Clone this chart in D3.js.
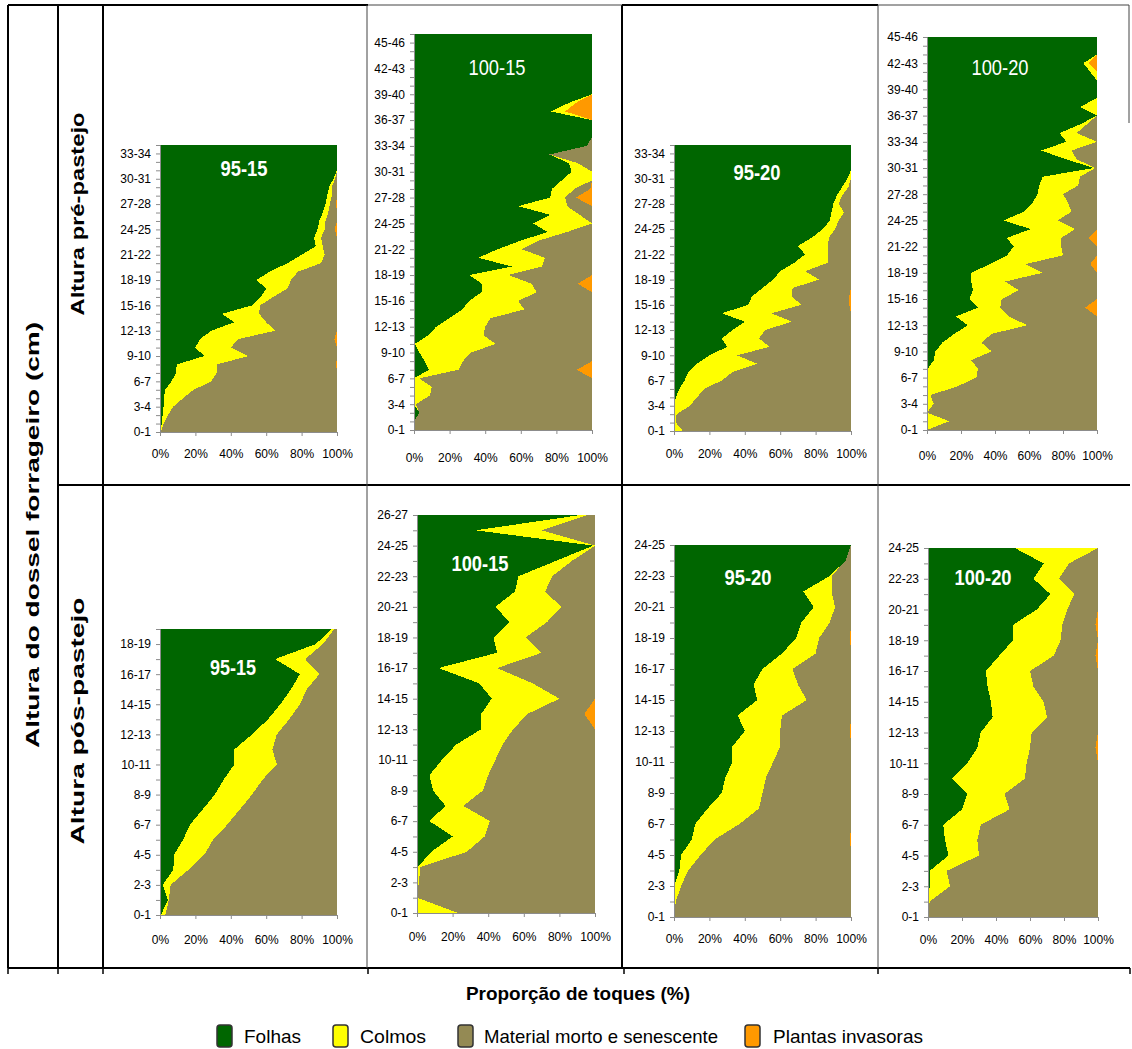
<!DOCTYPE html>
<html><head><meta charset="utf-8">
<script src="https://cdn.jsdelivr.net/npm/d3@7"></script>
<style>body{margin:0;background:#fff}svg{display:block}</style>
</head><body>
<svg id="chart" width="1132" height="1049"></svg>
<script>
// ---------- DATA ----------
const categories = ["0-1","1-2","2-3","3-4","4-5","5-6","6-7","7-8","8-9","9-10","10-11","11-12","12-13","13-14","14-15","15-16","16-17","17-18","18-19","19-20","20-21","21-22","22-23","23-24","24-25","25-26","26-27","27-28","28-29","29-30","30-31","31-32","32-33","33-34","34-35","35-36","36-37","37-38","38-39","39-40","40-41","41-42","42-43","43-44","44-45","45-46","46-47"];
const seriesNames = ["Folhas","Colmos","Material morto e senescente","Plantas invasoras"];
const seriesColors = ["#006600","#ffff00","#948a54","#ff9900"];
const xTickValues = [0,0.2,0.4,0.6,0.8,1];
const panelTitles = ["95-15","100-15","95-20","100-20","95-15","100-15","95-20","100-20"];

// Pré-pastejo 95-15
const preA_folhas = [0,1,1.5,2,2,3,6.5,9,9.5,25,20,22.5,29,42,35,52,57,60,54.5,62,72,80,88,87,89,90,92,93.5,94.5,95.5,98,100,100,100,100];
const preA_colmos = [0.5,1,3,5.5,11,16,22.5,23,22.5,25,20,21.5,36,18,21,4.5,7,12,19.5,16,19,13,4,4,4,3.5,3,2.5,2.5,1.5,1,0,0,0,0];
const preA_morto  = [99.5,98,95.5,92.5,87,81,71,68,67.5,50,60,54.5,35,40,44,43.5,36,28,26,22,9,7,8,9,5.7,6.5,5,3.5,3,3,1,0,0,0,0];
const preA_invas  = [0,0,0,0,0,0,0,0,0.5,0,0,1.5,0,0,0,0,0,0,0,0,0,0,0,0,1.3,0,0,0.5,0,0,0,0,0,0,0];
// Pré-pastejo 100-15
const preB_folhas = [0,0,3,0,0,0,0,8.5,6,3,0.5,8,12.5,20,27,31,38,38,31,55,36,47,60,75,67,76.5,58.5,76.5,77.5,83,88.5,87,76,97,100,100,100,77,87,100,100,100,100,100,100,100,100];
const preB_colmos = [0,0,0,1,9,10,3,16.5,21.5,29,45.5,31,27.5,23,35,27.5,31,28,22,17,37.5,13.5,10,11,33,16.5,27.5,8.5,12.5,17,11.5,5,0,0,0,0,0,8,4,0,0,0,0,0,0,0,0];
const preB_morto  = [100,100,97,99,91,90,97,66.5,72.5,68,54,61,60,57,38,41.5,31,26,47,28,26.5,39.5,30,14,0,7,14,6,9,0,0,8,24,3,0,0,0,0,0,0,0,0,0,0,0,0,0];
const preB_invas  = [0,0,0,0,0,0,0,8.5,0,0,0,0,0,0,0,0,0,8,0,0,0,0,0,0,0,0,0,9,1,0,0,0,0,0,0,0,0,15,9,0,0,0,0,0,0,0,0];
// Pré-pastejo 95-20
const preC_folhas = [0,0,0,0,1,3,6,8,13,20,30,27,33,40,27,42,44,50,56,60,68,74,70,78,84,88,89,90,92,95,98,100,100,100,100];
const preC_colmos = [5,1,1.5,9,12,14,21,25,34,15.5,24,21,18.5,26.5,28,30,22.5,17,26,14,19,13,17,9.5,7,5,7,3,3,3.5,2,0,0,0,0];
const preC_morto  = [95,99,98.5,91,87,83,73,67,53,64.5,46,52,48.5,33.5,45,27,32.5,33,18,26,13,13,13,12.5,9,7,4,7,5,1.5,0,0,0,0,0];
const preC_invas  = [0,0,0,0,0,0,0,0,0,0,0,0,0,0,0,1,1,0,0,0,0,0,0,0,0,0,0,0,0,0,0,0,0,0,0];
// Pré-pastejo 100-20
const preD_folhas = [0,0,0,0,0,0,0,0.5,4,5,9,16,24,17,30,25,27,26,26,37,47,51,47,61,45,57,62,65,66,68,98,82,67,82,78,90,100,90,100,100,100,96,92,100,100,100];
const preD_colmos = [0,13,0,4,2,18,29,29.5,22,33,23,22,35,31,13,19,27,20,42,21,33,28,32,26,32,28,21,15,23,22,1,6,18,18,10,4,0,10,0,0,0,4,3,0,0,0];
const preD_morto  = [100,87,100,96,98,82,71,70,74,62,68,62,41,52,50,56,46,54,32,38,20,21,16,13,23,15,17,20,11,10,1,12,15,0,12,6,0,0,0,0,0,0,0,0,0,0];
const preD_invas  = [0,0,0,0,0,0,0,0,0,0,0,0,0,0,7,0,0,0,0,4,0,0,5,0,0,0,0,0,0,0,0,0,0,0,0,0,0,0,0,0,0,0,5,0,0,0];
// Pós-pastejo 95-15
const posA_folhas = [0.5,4.5,1.5,7.5,8,13,17,24,31,36,42,42,52,61,68,74,79,65,88,97];
const posA_colmos = [2.5,0.5,4.5,8.5,17,17,21,21,21,22,24,21.5,14,12,11,9,11,17,4,1.5];
const posA_morto  = [97,95,94,84,75,70,62,55,48,42,34,36.5,34,27,21,17,10,18,8,1.5];
const posA_invas  = [0,0,0,0,0,0,0,0,0,0,0,0,0,0,0,0,0,0,0,0];
// Pós-pastejo 100-15
const posB_folhas = [0,0,0,0.5,8,20,7,16,9,7,14,22,36,36,42,35,12,45,43,52,44,55,57,78,99,33,92];
const posB_colmos = [23,0,1,1.5,20,18,34,10,28,33,30,26,18,26,38,30,33,25,18,21,37,17,19,9,1,37,4];
const posB_morto  = [77,100,99,98,72,62,59,74,63,60,56,52,46,32,20,35,55,30,39,27,19,28,24,13,0,30,4];
const posB_invas  = [0,0,0,0,0,0,0,0,0,0,0,0,0,6,0,0,0,0,0,0,0,0,0,0,0,0,0];
// Pós-pastejo 95-20
const posC_folhas = [0,0,0,3,4,10,12,19,27,29,33,33,40,36,47,45,50,61,69,72,79,73,88,97,100];
const posC_colmos = [0,1,4,5,11,13,25,29,23,23,23,27,20,25,28,25,17,19,13,16,12,16,1,0,0];
const posC_morto  = [100,99,96,92,85,76.5,63,52,50,48,44,40,39.5,39,25,30,33,20,17.5,12,9,11,11,3,0];
const posC_invas  = [0,0,0,0,0,0.5,0,0,0,0,0,0,0.5,0,0,0,0,0,0.5,0,0,0,0,0,0];
// Pós-pastejo 100-20
const posD_folhas = [0,0,1,1,12,10,9,20,23,14,23,29,31,38,37,35,34,42,50,50,64,72,62,68,51];
const posD_colmos = [0,1,12,10,18,19,22,28,22,43,35,31,30,32,31,27,26,32,28,29,18,14,15,15,49];
const posD_morto  = [100,99,87,89,70,71,69,52,55,43,42,38.5,39,30,32,38,40,24.5,22,19.5,18,14,23,17,0];
const posD_invas  = [0,0,0,0,0,0,0,0,0,0,0,1.5,0,0,0,0,0,1.5,0,1.5,0,0,0,0,0];

// ---------- LAYOUT ----------
const panels = [
  {t:0, s:[preA_folhas,preA_colmos,preA_morto,preA_invas], x0:160, x1:337, yb:432, yt:145, step:3, pad:13, tx:244, ty:168, tw:47, bold:true},
  {t:1, s:[preB_folhas,preB_colmos,preB_morto,preB_invas], x0:414, x1:592, yb:430, yt:34, step:3, pad:19, tx:497, ty:67, tw:57, bold:false},
  {t:2, s:[preC_folhas,preC_colmos,preC_morto,preC_invas], x0:674, x1:851, yb:431, yt:145, step:3, pad:14, tx:757, ty:172, tw:47, bold:true},
  {t:3, s:[preD_folhas,preD_colmos,preD_morto,preD_invas], x0:927, x1:1097, yb:430, yt:37, step:3, pad:17, tx:1000, ty:67, tw:57, bold:false},
  {t:4, s:[posA_folhas,posA_colmos,posA_morto,posA_invas], x0:160, x1:337, yb:915, yt:629, step:2, pad:16, tx:233, ty:667, tw:46, bold:true},
  {t:5, s:[posB_folhas,posB_colmos,posB_morto,posB_invas], x0:417, x1:595, yb:913, yt:515, step:2, pad:15, tx:480, ty:563, tw:57, bold:true},
  {t:6, s:[posC_folhas,posC_colmos,posC_morto,posC_invas], x0:674, x1:851, yb:917, yt:545, step:2, pad:13, tx:748, ty:577, tw:47, bold:true},
  {t:7, s:[posD_folhas,posD_colmos,posD_morto,posD_invas], x0:928, x1:1098, yb:917, yt:548, step:2, pad:14, tx:983, ty:577, tw:57, bold:true}
];

const svg = d3.select("#chart");
const FONT = "'Liberation Sans', Arial, sans-serif";

// frame
const frame = svg.append("g").attr("fill","none");
const thick = [[8,5,368,5],[622,5,878,5],[8,5,8,968],[58,5,58,968],[103,5,103,968],[622,5,622,968],[8,968,1130,968],[58,485,1130,485]];
thick.forEach(l => frame.append("line").attr("x1",l[0]).attr("y1",l[1]).attr("x2",l[2]).attr("y2",l[3]).attr("stroke","#000").attr("stroke-width",2));
const thin = [[367,5,367,968],[878,5,878,968],[368,5,622,5],[878,5,1129,5],[1129,5,1129,123]];
thin.forEach(l => frame.append("line").attr("x1",l[0]).attr("y1",l[1]).attr("x2",l[2]).attr("y2",l[3]).attr("stroke","#444").attr("stroke-width",1));
[8,58,103,368,624,878,1130].forEach(xv => frame.append("line").attr("x1",xv).attr("x2",xv).attr("y1",968).attr("y2",974).attr("stroke","#000").attr("stroke-width",1.5));

// panels
panels.forEach(p => {
  const n = p.s[0].length;
  const rows = d3.range(n).map(i => {
    const r = {i: i, cat: categories[i]};
    seriesNames.forEach((k, j) => r[k] = p.s[j][i]);
    return r;
  });
  const x = d3.scaleLinear().domain([0,1]).range([p.x0, p.x1]);
  const y = d3.scaleLinear().domain([0, n-1]).range([p.yb, p.yt]);
  const stacked = d3.stack().keys(seriesNames).offset(d3.stackOffsetExpand)(rows);
  const area = d3.area().x0(d => x(d[0])).x1(d => x(d[1])).y(d => y(d.data.i));
  const g = svg.append("g");
  g.selectAll("path.layer").data(stacked).join("path")
    .attr("class","layer")
    .attr("fill", (d,i) => seriesColors[i])
    .attr("shape-rendering","crispEdges")
    .attr("d", area);

  const ya = g.append("g").attr("transform", `translate(${p.x0},0)`)
    .call(d3.axisLeft(y).tickValues(d3.range(n)).tickSize(4).tickPadding(5)
      .tickFormat(i => i % p.step === 0 ? categories[i] : ""));
  const xa = g.append("g").attr("transform", `translate(0,${p.yb})`)
    .call(d3.axisBottom(x).tickValues(xTickValues).tickSize(4).tickPadding(p.pad)
      .tickFormat(d3.format(".0%")));
  [ya, xa].forEach(a => {
    a.select(".domain").attr("stroke","#8c8c8c");
    a.selectAll(".tick line").attr("stroke","#8c8c8c");
    a.selectAll("text").attr("font-family",FONT).attr("font-size",12).attr("fill","#000");
  });

  g.append("text").attr("x",p.tx).attr("y",p.ty).attr("text-anchor","middle")
    .attr("dominant-baseline","central")
    .attr("font-family",FONT).attr("font-size",22).attr("font-weight", p.bold ? "bold" : "normal")
    .attr("fill","#fff").attr("textLength",p.tw).attr("lengthAdjust","spacingAndGlyphs")
    .text(panelTitles[p.t]);
});

// left titles
const leftTitles = [
  {text:"Altura do dossel forrageiro (cm)", x:33, y:535, len:426},
  {text:"Altura pré-pastejo", x:78, y:214, len:203},
  {text:"Altura pós-pastejo", x:78, y:721, len:247}
];
leftTitles.forEach(t => svg.append("text")
  .attr("transform", `translate(${t.x},${t.y}) rotate(-90)`)
  .attr("text-anchor","middle").attr("dominant-baseline","central")
  .attr("font-family",FONT).attr("font-weight","bold").attr("font-size",18)
  .attr("textLength",t.len).attr("lengthAdjust","spacingAndGlyphs")
  .text(t.text));

// axis title
svg.append("text").attr("x",578).attr("y",993).attr("text-anchor","middle").attr("dominant-baseline","central")
  .attr("font-family",FONT).attr("font-weight","bold").attr("font-size",19)
  .attr("textLength",224).attr("lengthAdjust","spacingAndGlyphs")
  .text("Proporção de toques (%)");

// legend
const legendPos = [{sx:217, tx:244, tw:57},{sx:333, tx:360, tw:66},{sx:458, tx:484, tw:234},{sx:745, tx:773, tw:150}];
const lg = svg.append("g");
seriesNames.forEach((k, i) => {
  const lp = legendPos[i];
  lg.append("rect").attr("x",lp.sx).attr("y",1025).attr("width",15).attr("height",22).attr("rx",3)
    .attr("fill",seriesColors[i]).attr("stroke","#333").attr("stroke-width",1.5);
  lg.append("text").attr("x",lp.tx).attr("y",1036).attr("dominant-baseline","central")
    .attr("font-family",FONT).attr("font-size",19)
    .attr("textLength",lp.tw).attr("lengthAdjust","spacingAndGlyphs")
    .text(k);
});
</script>
</body></html>
